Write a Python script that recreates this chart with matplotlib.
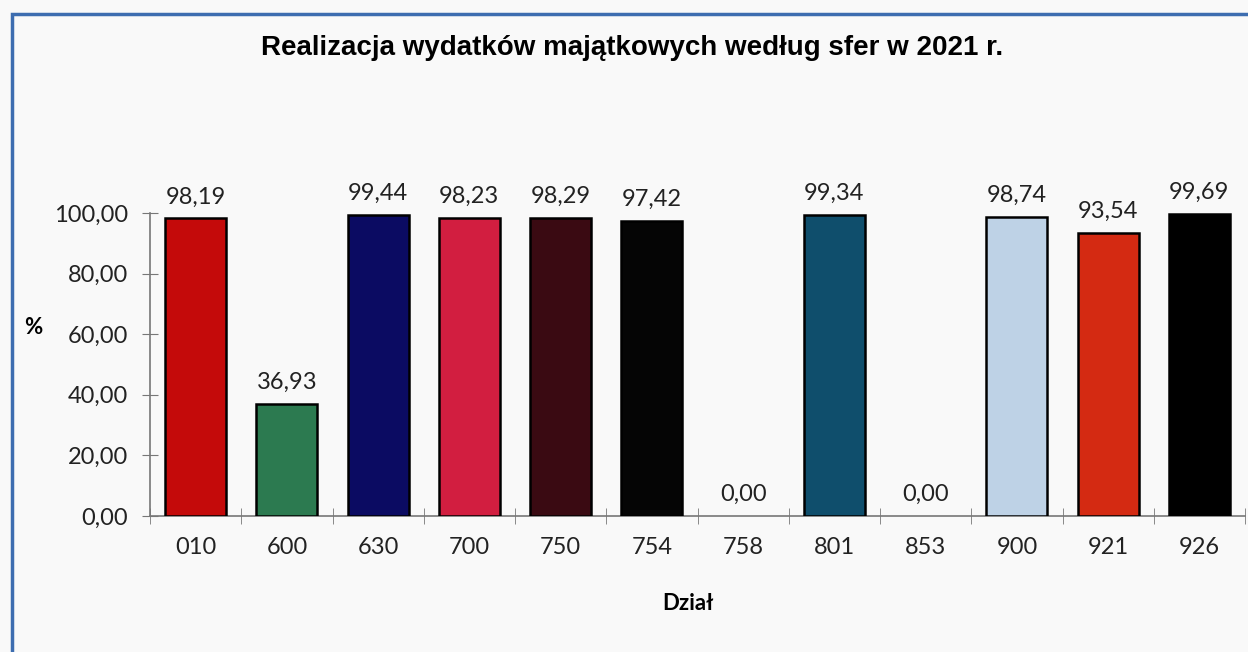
import numpy as np
import matplotlib.pyplot as plt
from matplotlib.patches import Rectangle

# data
dzialy = ["010", "600", "630", "700", "750", "754", "758", "801", "853", "900", "921", "926"]
realizacja = [98.19, 36.93, 99.44, 98.23, 98.29, 97.42, 0.00, 99.34, 0.00, 98.74, 93.54, 99.69]
kolory = ["#C40A0A", "#2C7A50", "#0B0B62", "#D21E40", "#3A0A12", "#050505",
          "#FFFFFF", "#0F4E6C", "#FFFFFF", "#BED2E6", "#D42A12", "#000000"]
y_ticks = [0, 20, 40, 60, 80, 100]

tick_font = "Lato"
title_font = "Liberation Sans"

fig = plt.figure(figsize=(12.48, 6.52), dpi=100)
fig.patch.set_facecolor("#F9F9F9")

# blue frame of the scanned chart (cut at the right/bottom)
fig.patches.append(Rectangle((12 / 1248, -0.05), 1.2, (652 - 14) / 652 + 0.05,
                             transform=fig.transFigure, fill=False,
                             edgecolor="#3D6DB0", linewidth=2.5))

ax = fig.add_axes([150 / 1248, 1 - 516 / 652, 1095 / 1248, (516 - 213) / 652])
ax.set_facecolor("none")

x = np.arange(len(dzialy))
edges = ["black" if v > 0 else "none" for v in realizacja]
ax.bar(x, realizacja, width=0.67, color=kolory, edgecolor=edges, linewidth=1.8, zorder=3)

for xi, v in zip(x, realizacja):
    ax.annotate(f"{v:.2f}".replace(".", ","), (xi, v), xytext=(0, 8),
                textcoords="offset points", ha="center", va="bottom",
                fontsize=17, family=tick_font, color="#222222", annotation_clip=False)

ax.set_xlim(-0.5, len(dzialy) - 0.5)
ax.set_ylim(0, 100)

ax.set_yticks(y_ticks)
ax.set_yticklabels([f"{t:.2f}".replace(".", ",") for t in y_ticks],
                   fontsize=17, family=tick_font, color="#222222")
ax.set_xticks(x)
ax.set_xticklabels(dzialy, fontsize=17, family=tick_font, color="#222222")
ax.set_xticks(np.arange(-0.5, len(dzialy)), minor=True)

ax.tick_params(axis="x", which="major", length=0, pad=15)
ax.tick_params(axis="x", which="minor", direction="inout", length=12, color="#777777")
ax.tick_params(axis="y", direction="inout", length=11.5, color="#777777", pad=10)

for side in ["top", "right"]:
    ax.spines[side].set_visible(False)
for side in ["left", "bottom"]:
    ax.spines[side].set_color("#777777")
    ax.spines[side].set_linewidth(1.2)

fig.text(632 / 1248, 1 - 48 / 652, "Realizacja wydatków majątkowych według sfer w 2021 r.",
         ha="center", va="center", fontsize=20, fontweight="bold", family=title_font)
fig.text(33 / 1248, 1 - 327 / 652, "%", ha="center", va="center",
         fontsize=16, fontweight="bold", family=tick_font)
fig.text(688 / 1248, 1 - 603 / 652, "Dział", ha="center", va="center",
         fontsize=16, fontweight="bold", family=tick_font)

fig.savefig("out.png", dpi=100, facecolor=fig.get_facecolor())
